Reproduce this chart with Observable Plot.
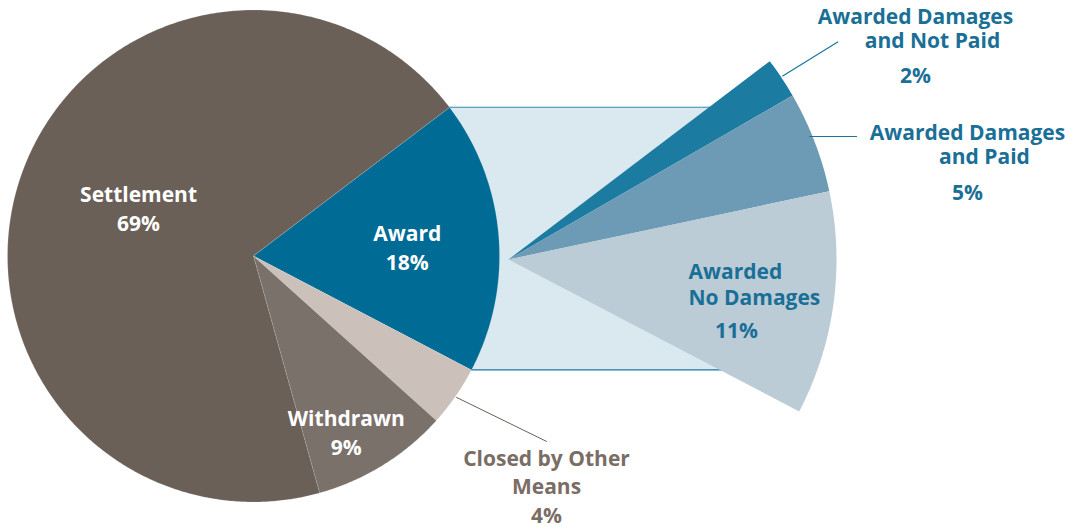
<!DOCTYPE html>
<html><head><meta charset="utf-8">
<script src="https://cdn.jsdelivr.net/npm/d3@7"></script>
<script src="https://cdn.jsdelivr.net/npm/@observablehq/plot@0.6"></script>
<style>body{margin:0;background:#fff} svg{display:block}</style>
</head><body><div id="chart"></div>
<script>
// ---- data ----
const mainCategories = ["Award", "Closed by Other Means", "Withdrawn", "Settlement"];
const mainValues = [18, 4, 9, 69];
const mainColors = ["#006b94", "#cbc0ba", "#7b716b", "#6b6058"];
const subCategories = ["Awarded Damages and Not Paid", "Awarded Damages and Paid", "Awarded No Damages"];
const subValues = [2, 5, 11];
const subColors = ["#1b7ba0", "#6d9bb5", "#bbccd7"];

// ---- layout ----
const W = 1065, H = 527;
const startDeg = 52.8;
const main = {cx: 253, cy: 255.5, r: 246};
const sub = {cx: 508, cy: 259, r: 328};
const FONT = "Open Sans";
const FS = 21;

function polar(c, deg, rr) {
  const a = deg * Math.PI / 180;
  return [c.cx + rr * Math.sin(a), c.cy - rr * Math.cos(a)];
}
function slices(cats, vals, colors) {
  let a = startDeg;
  return cats.map((k, i) => {
    const a0 = a, a1 = a + vals[i] * 3.6; a = a1;
    return {name: k, value: vals[i], color: colors[i], a0, a1, mid: (a0 + a1) / 2};
  });
}
function poly(s, c) {
  const pts = [{x: c.cx, y: c.cy}];
  const n = Math.max(4, Math.ceil((s.a1 - s.a0) / 0.5));
  for (let j = 0; j <= n; j++) {
    const [x, y] = polar(c, s.a0 + (s.a1 - s.a0) * j / n, c.r);
    pts.push({x, y});
  }
  return pts.map(p => ({...p, name: s.name, color: s.color}));
}
const mainS = slices(mainCategories, mainValues, mainColors);
const subS = slices(subCategories, subValues, subColors);
const mainPts = mainS.flatMap(s => poly(s, main));
const subPts = subS.flatMap(s => poly(s, sub));

// connecting band
const award = mainS[0];
const [bx0, by0] = polar(main, award.a0, main.r);
const [bx1, by1] = polar(main, award.a1, main.r);
const bandRight = polar(sub, startDeg, sub.r * 0.9)[0];
const band = [{x1: bx0, x2: bandRight, y1: by0, y2: by1}];
const bandLines = [
  {x1: bx0, x2: bandRight, y: by0, c: "#3b8eb2"},
  {x1: bx1, x2: bandRight, y: by1, c: "#1a74a0"}
];

// labels inside main pie
const inLabels = [
  {i: 3, ang: 292, k: 0.504},
  {i: 0, ang: 87.2, k: 0.626},
  {i: 2, ang: 152.4, k: 0.814}
].map(d => {
  const s = mainS[d.i];
  const [x, y] = polar(main, d.ang, d.k * main.r);
  return {x, y, text: s.name + "\n" + s.value + "%"};
});

// callout: closed by other means
const closed = mainS[1];
const [cx0, cy0] = polar(main, closed.mid, main.r);
const closedEnd = {x: cx0 + 91, y: cy0 + 45};
const closedLabel = [{x: closedEnd.x, y: closedEnd.y + 47, text: "Closed by Other\nMeans\n" + closed.value + "%"}];

// callouts for sub pie
const np = subS[0], pd = subS[1], nd = subS[2];
const [nx0, ny0] = polar(sub, np.mid, sub.r);
const npLeader = [{x: nx0 + 1, y: ny0 - 2}, {x: nx0 + 56, y: ny0 - 36}];
const pdY = 136;
const pdX0 = sub.cx + Math.sqrt(sub.r * sub.r - (sub.cy - pdY) ** 2) - 3;
const pdLeader = [{x: pdX0, y: pdY}, {x: pdX0 + 47, y: pdY}];

const blueText = [
  {x: 915, y: 18, text: "Awarded Damages"},
  {x: 932, y: 42, text: "and Not Paid"},
  {x: 915, y: 77, text: np.value + "%"},
  {x: 967, y: 134, text: "Awarded Damages"},
  {x: 984, y: 158, text: "and Paid"},
  {x: 967, y: 194, text: pd.value + "%"},
  {x: 736, y: 332, text: nd.value + "%"}
];
const blueLeft = [
  {x: 688, y: 284.5, text: "Awarded\nNo Damages"}
];

const chart = Plot.plot({
  width: W, height: H,
  margin: 0,
  x: {domain: [0, W], range: [0, W], axis: null},
  y: {domain: [0, H], range: [0, H], axis: null},
  color: {type: "identity"},
  style: {fontFamily: FONT, background: "white", overflow: "visible"},
  marks: [
    Plot.rect(band, {x1: "x1", x2: "x2", y1: "y1", y2: "y2", fill: "#dae8f0"}),
    Plot.ruleY(bandLines, {x1: "x1", x2: "x2", y: "y", stroke: "c", strokeWidth: 1.2}),
    Plot.line(mainPts, {x: "x", y: "y", z: "name", fill: "color", stroke: "#ffffff", strokeOpacity: 0.25, strokeWidth: 0.6, curve: "linear-closed"}),
    Plot.line(subPts, {x: "x", y: "y", z: "name", fill: "color", stroke: "none", curve: "linear-closed"}),
    Plot.line([{x: cx0 + 1, y: cy0 + 1}, closedEnd], {x: "x", y: "y", stroke: "#6b6058", strokeWidth: 1}),
    Plot.line(npLeader, {x: "x", y: "y", stroke: "#1a74a0", strokeWidth: 1.2}),
    Plot.line(pdLeader, {x: "x", y: "y", stroke: "#1a74a0", strokeWidth: 1.2}),
    Plot.text(inLabels, {x: "x", y: "y", dy: -2, text: "text", fill: "white", fontSize: FS, fontWeight: 700, lineHeight: 1.35, lineAnchor: "middle"}),
    Plot.text(closedLabel, {x: "x", y: "y", dy: -3, text: "text", fill: "#7a6d65", fontSize: FS, fontWeight: 700, lineHeight: 1.35, lineAnchor: "middle"}),
    Plot.text(blueText, {x: "x", y: "y", dy: -1, text: "text", fill: "#1a6f96", fontSize: FS, fontWeight: 700, lineAnchor: "middle"}),
    Plot.text(blueLeft, {x: "x", y: "y", dy: -1, text: "text", fill: "#1a6f96", fontSize: FS, fontWeight: 700, textAnchor: "start", lineAnchor: "middle", lineHeight: 1.2})
  ]
});
document.getElementById("chart").appendChild(chart);
</script>
</body></html>
